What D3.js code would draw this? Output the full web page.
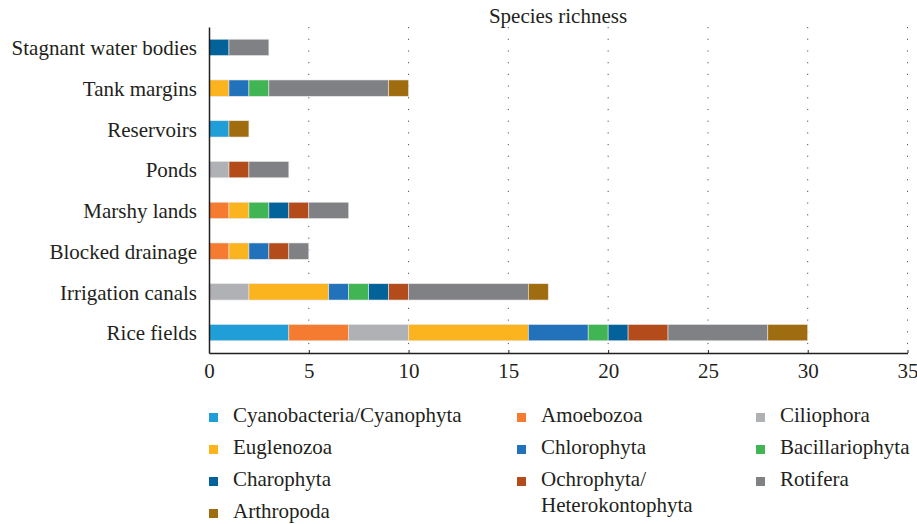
<!DOCTYPE html>
<html>
<head>
<meta charset="utf-8">
<script src="https://cdn.jsdelivr.net/npm/d3@7"></script>
<style>
  body { margin: 0; background: #fff; }
  text { font-family: "Liberation Serif", "DejaVu Serif", serif; fill: #231f20; }
</style>
</head>
<body>
<div id="chart"></div>
<script>
// Habitats (top to bottom)
const categories = ["Stagnant water bodies", "Tank margins", "Reservoirs", "Ponds",
  "Marshy lands", "Blocked drainage", "Irrigation canals", "Rice fields"];

// Groups, in stacking order
const seriesNames = ["Cyanobacteria/Cyanophyta", "Amoebozoa", "Ciliophora", "Euglenozoa",
  "Chlorophyta", "Bacillariophyta", "Charophyta", "Ochrophyta/Heterokontophyta",
  "Rotifera", "Arthropoda"];

// Species counts per habitat, same order as categories
const cyanobacteria   = [0, 0, 1, 0, 0, 0, 0, 4];
const amoebozoa       = [0, 0, 0, 0, 1, 1, 0, 3];
const ciliophora      = [0, 0, 0, 1, 0, 0, 2, 3];
const euglenozoa      = [0, 1, 0, 0, 1, 1, 4, 6];
const chlorophyta     = [0, 1, 0, 0, 0, 1, 1, 3];
const bacillariophyta = [0, 1, 0, 0, 1, 0, 1, 1];
const charophyta      = [1, 0, 0, 0, 1, 0, 1, 1];
const ochrophyta      = [0, 0, 0, 1, 1, 1, 1, 2];
const rotifera        = [2, 6, 0, 2, 2, 1, 6, 5];
const arthropoda      = [0, 1, 1, 0, 0, 0, 1, 2];

const xTicks = [0, 5, 10, 15, 20, 25, 30, 35];

const colors = ["#1f9ed8", "#f47b30", "#b0b1b4", "#fbb41e", "#2271bb",
  "#41b553", "#04629a", "#b34c1a", "#808184", "#a06c10"];

const allValues = [cyanobacteria, amoebozoa, ciliophora, euglenozoa, chlorophyta,
  bacillariophyta, charophyta, ochrophyta, rotifera, arthropoda];

// build rows for d3.stack
const rows = categories.map((c, i) => {
  const r = { habitat: c };
  seriesNames.forEach((s, j) => { r[s] = allValues[j][i]; });
  return r;
});

const svgWidth = 917;
const svgHeight = 524;
const margin = { top: 27, right: 9, bottom: 171, left: 209 };
const width = svgWidth - margin.left - margin.right;
const height = svgHeight - margin.top - margin.bottom;
const fontSize = "21px";

const svg = d3.select("#chart")
  .append("svg")
  .attr("width", svgWidth)
  .attr("height", svgHeight);

const g = svg.append("g")
  .attr("transform", `translate(${margin.left}, ${margin.top})`);

const x = d3.scaleLinear().domain([0, 35]).range([0, width - 0.5]);
const y = d3.scaleBand().domain(categories).range([0, height]).paddingInner(0.6).paddingOuter(0.3);

// dotted gridlines
g.append("g")
  .selectAll("line")
  .data(xTicks.slice(1))
  .join("line")
  .attr("x1", d => x(d)).attr("x2", d => x(d))
  .attr("y1", 0).attr("y2", height)
  .attr("stroke", "#555")
  .attr("stroke-width", 1)
  .attr("stroke-dasharray", "1.2,10.5");

// stacked bars
const stacked = d3.stack().keys(seriesNames)(rows);

g.selectAll("g.series")
  .data(stacked)
  .join("g")
  .attr("class", "series")
  .attr("fill", (d, i) => colors[i])
  .selectAll("rect")
  .data(d => d.filter(p => p[1] - p[0] > 0))
  .join("rect")
  .attr("x", d => x(d[0]))
  .attr("y", d => y(d.data.habitat))
  .attr("width", d => x(d[1]) - x(d[0]))
  .attr("height", y.bandwidth())
  .attr("stroke", "#e6e6e6")
  .attr("stroke-width", 0.6);

// x axis
const xAxis = g.append("g")
  .attr("transform", `translate(0, ${height})`)
  .call(d3.axisBottom(x).tickValues(xTicks).tickSize(3).tickSizeOuter(0));
xAxis.select(".domain").attr("stroke", "#231f20").attr("stroke-width", 1.5);
xAxis.selectAll(".tick line").attr("stroke", "#231f20").attr("y2", -3);
xAxis.selectAll(".tick text")
  .attr("y", 25)
  .attr("dy", 0)
  .style("font-size", fontSize)
  .style("font-family", "Liberation Serif, serif");

// y axis
const yAxis = g.append("g")
  .call(d3.axisLeft(y).tickSize(0).tickPadding(12));
yAxis.select(".domain").attr("stroke", "#231f20").attr("stroke-width", 1.5);
yAxis.selectAll(".tick text")
  .attr("dy", "0.37em")
  .style("font-size", fontSize)
  .style("font-family", "Liberation Serif, serif");

// title
svg.append("text")
  .attr("x", 558).attr("y", 23)
  .attr("text-anchor", "middle")
  .style("font-size", fontSize)
  .text("Species richness");

// legend, 3 columns
const legendCols = [209, 517, 756];
const legendRows = [422, 454, 486, 518];
const legend = svg.append("g");
seriesNames.forEach((name, i) => {
  const col = i % 3;
  const row = Math.floor(i / 3);
  const lx = legendCols[col];
  const ly = legendRows[row];
  legend.append("rect")
    .attr("x", lx).attr("y", ly - 9)
    .attr("width", 9).attr("height", 9)
    .attr("fill", colors[i]);
  const t = legend.append("text")
    .attr("x", lx + 24).attr("y", ly)
    .style("font-size", fontSize);
  const parts = name === "Ochrophyta/Heterokontophyta" ? ["Ochrophyta/", "Heterokontophyta"] : [name];
  parts.forEach((p, k) => {
    t.append("tspan").attr("x", lx + 24).attr("dy", k === 0 ? 0 : 26).text(p);
  });
});
</script>
</body>
</html>
